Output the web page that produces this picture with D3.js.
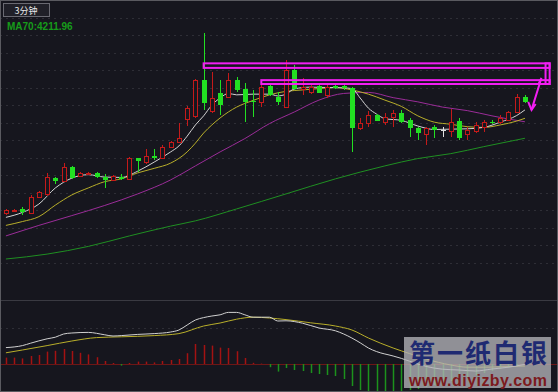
<!DOCTYPE html>
<html>
<head>
<meta charset="utf-8">
<script src="https://cdnjs.cloudflare.com/ajax/libs/d3/7.8.5/d3.min.js"></script>
<style>
    body { margin: 0; background: #16161e; }
    svg { display: block; }
</style>
</head>
<body>
<svg width="558" height="392"></svg>
<script>
// 3 minute candles
var opens  = [4189.1, 4189.7, 4190.3, 4189.2, 4193.8, 4194.5, 4199.2, 4198.4, 4202.4, 4199.7,
              4200.5, 4200.6, 4199.5, 4198.6, 4199.5, 4198.8, 4204.8, 4203.8, 4205.4, 4204.9,
              4208.1, 4209.3, 4215.9, 4216.9, 4227.1, 4218.3, 4223.3, 4222.4, 4227.1, 4224.5,
              4221.1, 4220.8, 4225.4, 4222.4, 4219.5, 4230.0, 4224.5, 4223.8, 4225.5, 4222.9,
              4225.5, 4225.4, 4224.8, 4213.5, 4214.8, 4217.1, 4215.2, 4216.5, 4217.8, 4215.7,
              4213.3, 4211.7, 4213.6, 4212.9, 4212.7, 4215.4, 4211.7, 4212.7, 4213.8, 4215.1,
              4215.2, 4215.7, 4218.1, 4222.4];
var highs  = [4190.4, 4190.2, 4190.8, 4194.3, 4195.3, 4200.5, 4199.4, 4203.3, 4202.6, 4200.9,
              4201.0, 4200.9, 4200.3, 4200.0, 4200.3, 4205.1, 4205.0, 4207.3, 4207.3, 4208.6,
              4209.7, 4214.8, 4219.7, 4227.4, 4240.5, 4229.5, 4227.1, 4229.1, 4228.1, 4226.2,
              4224.3, 4225.7, 4225.9, 4223.8, 4232.9, 4231.4, 4227.8, 4226.2, 4225.8, 4226.0,
              4225.7, 4226.0, 4225.1, 4216.4, 4218.3, 4217.4, 4217.7, 4218.6, 4218.6, 4216.2,
              4213.7, 4213.8, 4214.3, 4213.8, 4218.8, 4216.2, 4213.8, 4215.1, 4215.7, 4215.7,
              4217.1, 4218.3, 4223.1, 4222.9];
var lows   = [4188.5, 4189.6, 4188.5, 4188.9, 4193.7, 4194.1, 4197.4, 4198.1, 4199.0, 4199.4,
              4200.3, 4199.1, 4196.2, 4198.3, 4198.6, 4198.6, 4200.9, 4203.1, 4204.3, 4204.9,
              4208.0, 4209.1, 4214.0, 4216.3, 4218.6, 4217.6, 4217.1, 4221.9, 4223.8, 4215.2,
              4216.7, 4219.5, 4222.6, 4220.0, 4219.1, 4224.3, 4222.9, 4223.1, 4223.3, 4222.0,
              4224.6, 4224.3, 4206.7, 4212.9, 4213.8, 4215.4, 4214.3, 4213.8, 4214.9, 4210.9,
              4210.0, 4208.6, 4210.6, 4210.9, 4210.9, 4210.0, 4210.0, 4212.0, 4212.4, 4214.6,
              4214.6, 4215.4, 4217.7, 4220.5];
var closes = [4190.0, 4190.0, 4189.5, 4193.8, 4195.1, 4199.3, 4198.3, 4202.2, 4199.1, 4200.7,
              4200.7, 4199.4, 4198.6, 4199.7, 4198.8, 4204.8, 4204.1, 4205.4, 4204.9, 4208.1,
              4209.4, 4210.5, 4219.1, 4227.1, 4220.5, 4222.1, 4220.0, 4227.1, 4224.3, 4220.8,
              4220.8, 4225.2, 4222.9, 4220.9, 4230.0, 4224.5, 4225.2, 4225.2, 4223.5, 4225.2,
              4224.8, 4224.8, 4213.5, 4214.8, 4217.1, 4215.5, 4216.7, 4217.8, 4215.2, 4213.3,
              4211.9, 4213.3, 4212.9, 4212.9, 4215.2, 4210.5, 4212.9, 4214.3, 4215.2, 4214.9,
              4216.4, 4217.9, 4222.4, 4220.8];

// moving averages (bar index, value)
var ma5Idx = [0, 2, 4, 6, 8, 10, 12, 14, 16, 18, 20, 21, 22, 23, 24, 25, 26, 27, 28, 30, 32, 33, 34, 35,
              37, 39, 41, 42, 43, 44, 45, 46, 48, 50, 52, 54, 56, 58, 60, 62, 63];
var ma5Val = [4187.9, 4189.3, 4191.7, 4196.3, 4199.1, 4200.1, 4199.4, 4199.3, 4201.1, 4203.7, 4206.6,
              4208.3, 4211.1, 4214.3, 4216.9, 4220.0, 4222.0, 4223.3, 4222.9, 4223.1, 4223.1, 4222.6,
              4223.1, 4224.6, 4225.1, 4225.0, 4224.9, 4224.7, 4222.0, 4219.1, 4217.4, 4216.1, 4215.6,
              4214.0, 4213.0, 4213.1, 4213.2, 4213.6, 4215.1, 4217.0, 4218.6];
var ma10Idx = [0, 2, 4, 6, 8, 10, 12, 14, 16, 18, 20, 22, 23, 24, 25, 26, 28, 30, 32, 34, 36, 38, 40,
               42, 44, 46, 48, 50, 52, 54, 56, 58, 60, 62, 63];
var ma10Val = [4185.6, 4186.7, 4188.1, 4191.4, 4194.3, 4196.3, 4198.1, 4198.9, 4200.6, 4201.9, 4203.4,
               4206.6, 4209.1, 4212.0, 4214.3, 4216.3, 4219.4, 4221.3, 4222.9, 4223.9, 4224.3, 4224.7,
               4225.0, 4224.3, 4223.1, 4221.4, 4219.6, 4216.9, 4215.1, 4214.5, 4213.8, 4213.6, 4214.3,
               4215.4, 4216.2];
var ma30Idx = [0, 4, 8, 12, 16, 20, 23, 26, 29, 32, 35, 38, 41, 44, 47, 50, 53, 56, 59, 61, 63];
var ma30Val = [4182.6, 4185.6, 4188.4, 4191.3, 4194.6, 4198.6, 4202.6, 4206.6, 4210.4, 4214.7, 4218.0,
               4221.4, 4223.3, 4223.6, 4222.1, 4220.9, 4219.4, 4218.4, 4216.9, 4216.0, 4215.2];
var ma70Idx = [0, 5, 10, 15, 20, 23, 28, 34, 40, 46, 50, 54, 58, 63];
var ma70Val = [4176.0, 4177.4, 4179.6, 4182.6, 4185.4, 4186.9, 4190.3, 4194.6, 4198.9, 4202.6, 4204.7,
               4206.1, 4208.1, 4210.5];

// MACD pane
var macdHist = [1.6, 1.6, 1.4, 2.0, 2.25, 3.1, 3.3, 3.75, 3.25, 2.8,
                2.4, 1.7, 0.75, 0.25, -0.4, 0.25, 0.6, 0.6, 0.4, 0.75,
                1.0, 1.25, 2.7, 5.0, 4.75, 4.6, 4.1, 4.0, 3.2, 1.5,
                0.3, 0.1, -0.8, -1.9, -1.0, -1.5, -1.75, -2.25, -2.5, -2.75,
                -3.0, -3.75, -5.5, -6.5, -6.75, -6.75, -7.0, -7.0, -6.75, -6.5,
                -6.25, -5.75, -5.25, -4.75, -4.25, -3.75, -3.25, -2.75, -2.25, -1.75,
                -1.25, -1.0, -0.5, -0.25];
var difIdx = [0, 2, 3, 5, 6, 7, 8, 10, 12, 13, 14, 16, 18, 20, 21, 22, 23, 24, 25, 26, 27, 28, 29, 30,
              31, 32, 33, 34, 36, 38, 40, 41, 43, 44, 45, 47, 48, 50, 51, 53, 55, 57, 59, 61, 63];
var difVal = [4.1, 4.6, 5.2, 6.3, 6.7, 7.5, 7.75, 7.9, 7.3, 7.0, 7.1, 7.4, 7.6, 8.0, 8.5, 9.75, 11.0,
              11.6, 12.0, 12.3, 12.9, 12.9, 12.3, 11.7, 11.7, 11.7, 10.75, 10.8, 10.2, 9.0, 8.3, 7.5,
              5.3, 4.0, 3.1, 2.0, 1.4, 0, -0.6, -1.3, -1.5, -1.75, -1.25, -0.8, -0.1];
var deaIdx = [0, 2, 5, 8, 11, 14, 18, 21, 24, 26, 28, 30, 32, 34, 37, 40, 42, 44, 47, 49, 51, 54, 56,
              58, 60, 63];
var deaVal = [2.8, 3.5, 4.6, 5.75, 6.6, 6.8, 7.1, 7.6, 9.5, 10.25, 11.2, 11.7, 11.5, 11.1, 10.3, 9.5,
              8.5, 6.5, 4.0, 2.6, 1.25, -0.25, -0.8, -0.8, -0.7, -0.5];

// price grid and hand drawn marks on the picture
var gridPrices = d3.range(4175, 4250, 5);
var boxes = [[24.0, 66.0, 4231.9, 4230.6], [31.0, 66.0, 4227.1, 4226.0]];
var arrowPts = [[64.6, 4225.7], [65.0, 4227.7], [63.8, 4218.6]];
var arrowHead = [[63.4, 4220.9], [63.8, 4218.6], [64.3, 4220.3]];

var svg = d3.select("svg"),
    width = +svg.attr("width"), height = +svg.attr("height");

var n = opens.length;
var step = 8.29;

//define scales
var x = d3.scaleBand().domain(d3.range(n)).range([0.15, 0.15 + n * step]).padding(0.4),
    xi = d3.scaleLinear().domain([0, 1]).range([x(0) + x.bandwidth() / 2, x(1) + x.bandwidth() / 2]),
    y = d3.scaleLinear().domain([4170, 4250]).range([280, 0]),
    ym = d3.scaleLinear().domain([-7, 16]).range([392, 300]);

function cx(i) { return Math.round(xi(i)); }

svg.append("rect")
    .attr("width", width)
    .attr("height", height)
    .attr("fill", "#16161e");

//dotted grid
svg.append("g").selectAll("line")
    .data(gridPrices)
    .enter().append("line")
    .attr("x1", 0)
    .attr("x2", width)
    .attr("y1", function (d) { return Math.round(y(d)) + 0.5; })
    .attr("y2", function (d) { return Math.round(y(d)) + 0.5; })
    .attr("stroke", "#2e2e36")
    .attr("stroke-dasharray", "2,4");

//pane separator and macd grid
svg.append("line")
    .attr("x1", 0).attr("x2", width)
    .attr("y1", Math.round(ym(16)) + 0.5).attr("y2", Math.round(ym(16)) + 0.5)
    .attr("stroke", "#3a3a42");
svg.append("line")
    .attr("x1", 0).attr("x2", width)
    .attr("y1", Math.round(ym(9)) + 0.5).attr("y2", Math.round(ym(9)) + 0.5)
    .attr("stroke", "#2e2e36")
    .attr("stroke-dasharray", "2,4");
svg.append("line")
    .attr("x1", 0).attr("x2", width)
    .attr("y1", Math.round(ym(0)) + 0.5).attr("y2", Math.round(ym(0)) + 0.5)
    .attr("stroke", "#6e1616");

//moving average lines
function drawLine(g, idx, vals, sc, color) {
    var pts = idx.map(function (d, k) { return [xi(d), sc(vals[k])]; });
    g.append("path")
        .datum(pts)
        .attr("fill", "none")
        .attr("stroke", color)
        .attr("stroke-width", 1)
        .attr("d", d3.line().curve(d3.curveMonotoneX));
}

var ma = svg.append("g");
drawLine(ma, ma70Idx, ma70Val, y, "#1f8f22");
drawLine(ma, ma30Idx, ma30Val, y, "#9a2c98");
drawLine(ma, ma10Idx, ma10Val, y, "#b8ae2a");
drawLine(ma, ma5Idx, ma5Val, y, "#d4d4d4");

//candles
var candles = svg.append("g").selectAll("g")
    .data(d3.range(n))
    .enter().append("g");

function candleColor(i) {
    if (closes[i] > opens[i]) return "#c41a1a";
    if (closes[i] < opens[i]) return "#22e022";
    return "#e0e0e0";
}

candles.append("line")
    .attr("x1", function (i) { return cx(i) + 0.5; })
    .attr("x2", function (i) { return cx(i) + 0.5; })
    .attr("y1", function (i) { return Math.round(y(highs[i])); })
    .attr("y2", function (i) { return Math.round(y(lows[i])); })
    .attr("stroke", candleColor);

candles.append("rect")
    .attr("x", function (i) { return closes[i] > opens[i] ? cx(i) - 1.5 : cx(i) - 2; })
    .attr("y", function (i) {
        var t = Math.round(y(Math.max(opens[i], closes[i])));
        return closes[i] > opens[i] ? t + 0.5 : t;
    })
    .attr("width", function (i) { return closes[i] > opens[i] ? 4 : 5; })
    .attr("height", function (i) {
        var h = Math.round(y(Math.min(opens[i], closes[i]))) - Math.round(y(Math.max(opens[i], closes[i])));
        return Math.max(h, 1);
    })
    .attr("fill", function (i) { return closes[i] > opens[i] ? "#16161e" : candleColor(i); })
    .attr("stroke", function (i) { return closes[i] > opens[i] ? candleColor(i) : "none"; });

//macd histogram
svg.append("g").selectAll("line")
    .data(macdHist)
    .enter().append("line")
    .attr("x1", function (d, i) { return cx(i) + 0.5; })
    .attr("x2", function (d, i) { return cx(i) + 0.5; })
    .attr("y1", ym(0))
    .attr("y2", function (d) { return ym(d); })
    .attr("stroke", function (d) { return d >= 0 ? "#a41212" : "#1c921c"; })
    .attr("stroke-width", 1.5);

var mg = svg.append("g");
drawLine(mg, deaIdx, deaVal, ym, "#b8ae2a");
drawLine(mg, difIdx, difVal, ym, "#d0d0d0");

//hand drawn highlight boxes and arrow
var mark = "#f21ef2";
svg.append("g").selectAll("rect")
    .data(boxes)
    .enter().append("rect")
    .attr("x", function (d) { return xi(d[0]); })
    .attr("y", function (d) { return y(d[2]); })
    .attr("width", function (d) { return xi(d[1]) - xi(d[0]); })
    .attr("height", function (d) { return y(d[3]) - y(d[2]); })
    .attr("fill", "none")
    .attr("stroke", mark)
    .attr("stroke-width", 2);
svg.append("rect")
    .attr("x", xi(65.5))
    .attr("y", y(boxes[0][2]))
    .attr("width", xi(66.0) - xi(65.5))
    .attr("height", y(boxes[1][3]) - y(boxes[0][2]))
    .attr("fill", "none")
    .attr("stroke", mark)
    .attr("stroke-width", 2);
[arrowPts, arrowHead].forEach(function (pts) {
    svg.append("path")
        .attr("d", d3.line()(pts.map(function (p) { return [xi(p[0]), y(p[1])]; })))
        .attr("fill", "none")
        .attr("stroke", mark)
        .attr("stroke-width", 2);
});

//top left labels
svg.append("rect")
    .attr("x", 3.5).attr("y", 3.5)
    .attr("width", 46).attr("height", 13)
    .attr("fill", "#202028")
    .attr("stroke", "#6a6a72");
svg.append("text")
    .attr("x", 26).attr("y", 13.5)
    .attr("text-anchor", "middle")
    .attr("font-family", "Noto Sans CJK SC")
    .attr("font-size", "9px")
    .attr("fill", "#e8e8e8")
    .text("3分钟");
svg.append("text")
    .attr("x", 7).attr("y", 30)
    .attr("font-family", "Liberation Sans, Arial")
    .attr("font-size", "10px")
    .attr("font-weight", "bold")
    .attr("fill", "#169c1a")
    .text("MA70:4211.96");

//watermark
var wm = svg.append("g");
wm.append("rect")
    .attr("x", 404).attr("y", 337)
    .attr("width", 147).attr("height", 51)
    .attr("fill", "#b4b4b8")
    .attr("opacity", 0.78);
wm.append("text")
    .attr("x", 409).attr("y", 363)
    .attr("font-family", "Noto Sans CJK SC")
    .attr("font-weight", "bold")
    .attr("font-size", "26px")
    .attr("textLength", 138)
    .attr("fill", "#1f2a72")
    .text("第一纸白银");
wm.append("text")
    .attr("x", 409).attr("y", 386)
    .attr("font-family", "Liberation Sans, Arial")
    .attr("font-weight", "bold")
    .attr("font-size", "16px")
    .attr("textLength", 138)
    .attr("fill", "#7c1a1e")
    .text("www.diyizby.com");

//outer frame
svg.append("rect")
    .attr("x", 0.5).attr("y", 0.5)
    .attr("width", width - 1).attr("height", height - 1)
    .attr("fill", "none")
    .attr("stroke", "#5a5a60");
</script>
</body>
</html>
